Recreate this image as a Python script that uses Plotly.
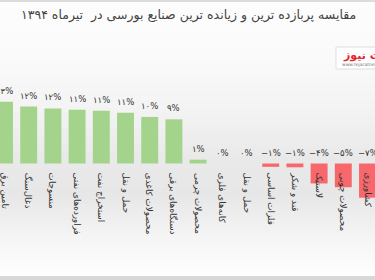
import plotly.graph_objects as go

W, H = 375, 280

categories = ["تامین برق", "ذغال‌سنگ", "منسوجات", "فراورده‌های نفتی", "استخراج نفت",
              "حمل و نقل", "محصولات کاغذی", "دستگاه‌های برقی", "محصولات چرمی",
              "کانه‌های فلزی", "حمل و نقل", "فلزات اساسی", "قند و شکر", "لاستیک",
              "محصولات چوبی", "کشاورزی"]
values = [13, 12, 11.6, 11.3, 11.1, 10.7, 9.8, 9.3, 0.8, 0, 0, -0.7, -0.8, -4.2, -5.0, -7.2]
value_labels = ["۱۳%", "۱۲%", "۱۲%", "۱۱%", "۱۱%", "۱۱%", "۱۰%", "۹%", "۱%", "۰%", "۰%",
                "−۱%", "−۱%", "−۴%", "−۵%", "−۷%"]
title_text = "مقایسه پربازده ترین و زیانده ترین صنایع بورسی در  تیرماه ۱۳۹۴"

GREEN = "#a4d48b"
RED = "#f6686b"
FONT = "DejaVu Sans"

xs = list(range(len(categories)))
colors = [GREEN if v >= 0 else RED for v in values]

fig = go.Figure()
fig.add_trace(go.Bar(x=xs, y=values, marker=dict(color=colors, line=dict(width=0)),
                     width=0.70, hoverinfo="skip"))

base_px, ppu = 163.5, 4.75
ytop = base_px / ppu
ybot = -(H - base_px) / ppu
step = 24.2
x0 = -4.5 / step
x1 = x0 + W / step

annotations = []
for i, (v, lab, cat) in enumerate(zip(values, value_labels, categories)):
    annotations.append(dict(x=i, y=max(v, 0), xref="x", yref="y", text=lab, showarrow=False,
                            yanchor="bottom", yshift=4, font=dict(family=FONT, size=8.5, color="#333")))
    annotations.append(dict(x=i, y=0, xref="x", yref="y", text=cat, showarrow=False,
                            textangle=90, yanchor="top", xanchor="center", yshift=-7,
                            font=dict(family=FONT, size=8.8, color="#333")))

annotations.append(dict(x=188 / W, y=1 - 15 / H, xref="paper", yref="paper", text=title_text,
                        showarrow=False, xanchor="center", yanchor="middle",
                        font=dict(family=FONT, size=12.5, color="#444")))
annotations.append(dict(x=341 / W, y=1 - 56 / H, xref="paper", yref="paper", text="<b>تجارت نیوز</b>",
                        showarrow=False, xanchor="left", yanchor="middle",
                        font=dict(family=FONT, size=11, color="#e8262b")))
annotations.append(dict(x=340 / W, y=1 - 64.5 / H, xref="paper", yref="paper", text="www.tejaratnews.com",
                        showarrow=False, xanchor="left", yanchor="middle",
                        font=dict(family=FONT, size=4.5, color="#777")))

def gray_at(py):
    pts = [(0, 253), (60, 250), (110, 243), (160, 233), (195, 231), (235, 244), (268, 253), (280, 254)]
    for (a, ca), (b, cb) in zip(pts, pts[1:]):
        if a <= py <= b:
            t = (py - a) / (b - a)
            return int(round(ca + (cb - ca) * t))
    return 254

shapes = []
band = 4
for py in range(0, H, band):
    g = gray_at(py + band / 2)
    shapes.append(dict(type="rect", xref="paper", yref="paper", x0=0, x1=1,
                       y0=1 - (py + band) / H, y1=1 - py / H, fillcolor=f"rgb({g},{g},{g})",
                       line=dict(width=0), layer="below"))
shapes.append(dict(type="rect", xref="paper", yref="paper", x0=0, x1=1, y0=1 - 2 / H, y1=1,
                   fillcolor="#dcdcdc", line=dict(width=0), layer="below"))
shapes.append(dict(type="rect", xref="paper", yref="paper", x0=0, x1=1, y0=0, y1=4 / H,
                   fillcolor="#d8d8d8", line=dict(width=0), layer="below"))
shapes.append(dict(type="rect", xref="paper", yref="paper", x0=0, x1=1, y0=4 / H, y1=6 / H,
                   fillcolor="#fdfdfd", line=dict(width=0), layer="below"))
shapes.append(dict(type="rect", xref="paper", yref="paper", x0=336 / W, x1=1.05,
                   y0=1 - 69 / H, y1=1 - 47 / H, fillcolor="#ffffff",
                   line=dict(width=1, color="#dddddd"), layer="above"))

fig.update_layout(
    width=W, height=H, margin=dict(l=0, r=0, t=0, b=0),
    paper_bgcolor="#ffffff", plot_bgcolor="rgba(0,0,0,0)",
    showlegend=False, bargap=0.3,
    xaxis=dict(range=[x0, x1], visible=False, fixedrange=True),
    yaxis=dict(range=[ybot, ytop], visible=False, fixedrange=True),
    annotations=annotations, shapes=shapes,
)

fig.write_html("out.html", config={"displayModeBar": False})
